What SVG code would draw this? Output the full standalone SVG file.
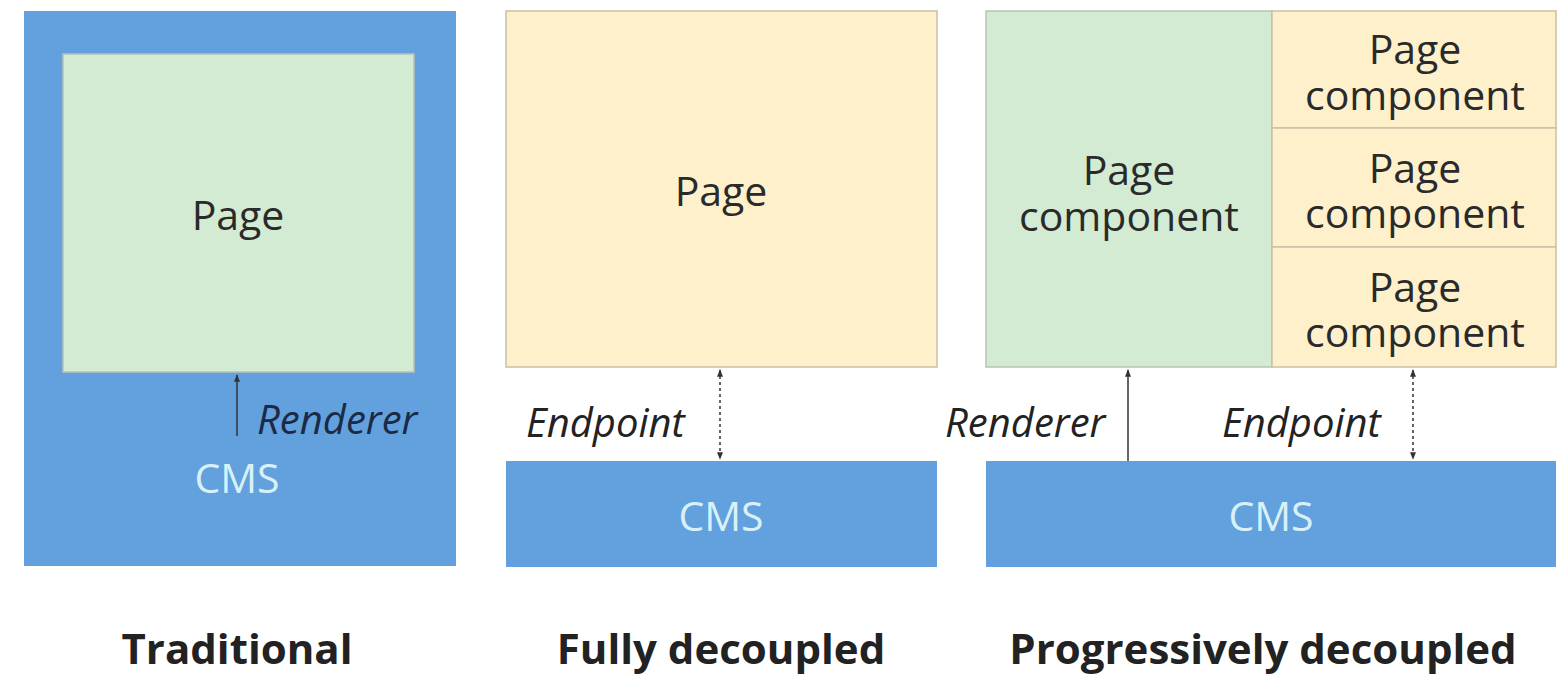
<svg xmlns="http://www.w3.org/2000/svg" width="1567" height="675" viewBox="0 0 1567 675">
<defs>
<style>
.blue{fill:#62a0de}
.green{fill:#d3ebd2;stroke:#b8c4b4;stroke-width:1.5}
.yellow{fill:#fdf0cb;stroke:#c9c0a6;stroke-width:1.5}
.t{font-family:"Open Sans","Noto Sans","Liberation Sans",sans-serif;font-size:41px;fill:#2a2a2a;text-anchor:middle}
.cms{font-family:"Open Sans","Noto Sans","Liberation Sans",sans-serif;font-size:41px;fill:#d8f1f8;text-anchor:middle}
.lab{font-family:"Open Sans","Noto Sans","Liberation Sans",sans-serif;font-size:40px;font-style:italic;fill:#222}
.title{font-family:"Open Sans","Noto Sans","Liberation Sans",sans-serif;font-size:42px;font-weight:bold;fill:#222;text-anchor:middle}
.solid{stroke:#333;stroke-width:1.5;fill:none}
.dot{stroke:#333;stroke-width:1.5;stroke-dasharray:3 3;fill:none}
</style>
<marker id="ah" viewBox="0 0 10 10" refX="9" refY="5" markerWidth="5" markerHeight="5" orient="auto-start-reverse">
<path d="M0,1 L10,5 L0,9 z" fill="#333"/>
</marker>
</defs>
<rect width="1567" height="675" fill="#ffffff"/>

<g id="traditional">
<rect class="blue" x="24" y="11" width="432" height="555"/>
<rect class="green" x="63" y="54" width="351" height="318"/>
<text class="t" x="238" y="230">Page</text>
<text class="cms" x="237" y="493">CMS</text>
<text class="lab" x="257" y="434" fill="#1c2a45" style="fill:#1c2a45">Renderer</text>
</g>

<g id="fully-decoupled">
<rect class="yellow" x="506" y="11" width="431" height="356"/>
<text class="t" x="721" y="206">Page</text>
<rect class="blue" x="506" y="461" width="431" height="106"/>
<text class="cms" x="721" y="531">CMS</text>
<text class="lab" x="526" y="437">Endpoint</text>
</g>

<g id="progressive">
<rect class="green" x="986" y="11" width="286" height="356"/>
<text class="t" x="1129" y="185">Page</text>
<text class="t" x="1129" y="231">component</text>
<rect class="yellow" x="1272" y="11" width="284" height="117"/>
<text class="t" x="1415" y="64">Page</text>
<text class="t" x="1415" y="110">component</text>
<rect class="yellow" x="1272" y="128" width="284" height="119"/>
<text class="t" x="1415" y="183">Page</text>
<text class="t" x="1415" y="228">component</text>
<rect class="yellow" x="1272" y="247" width="284" height="120"/>
<text class="t" x="1415" y="302">Page</text>
<text class="t" x="1415" y="347">component</text>
<rect class="blue" x="986" y="461" width="570" height="106"/>
<text class="cms" x="1271" y="531">CMS</text>
<text class="lab" x="945" y="437">Renderer</text>
<text class="lab" x="1222" y="437">Endpoint</text>
</g>

<g id="connectors">
<line class="solid" x1="237" y1="436" x2="237" y2="375" marker-end="url(#ah)"/>
<line class="dot" x1="720" y1="370" x2="720" y2="459" marker-start="url(#ah)" marker-end="url(#ah)"/>
<line class="solid" x1="1128" y1="461" x2="1128" y2="370" marker-end="url(#ah)"/>
<line class="dot" x1="1413" y1="370" x2="1413" y2="459" marker-start="url(#ah)" marker-end="url(#ah)"/>
</g>

<g id="titles">
<text class="title" x="237" y="664">Traditional</text>
<text class="title" x="721" y="664">Fully decoupled</text>
<text class="title" x="1263" y="664">Progressively decoupled</text>
</g>
</svg>
